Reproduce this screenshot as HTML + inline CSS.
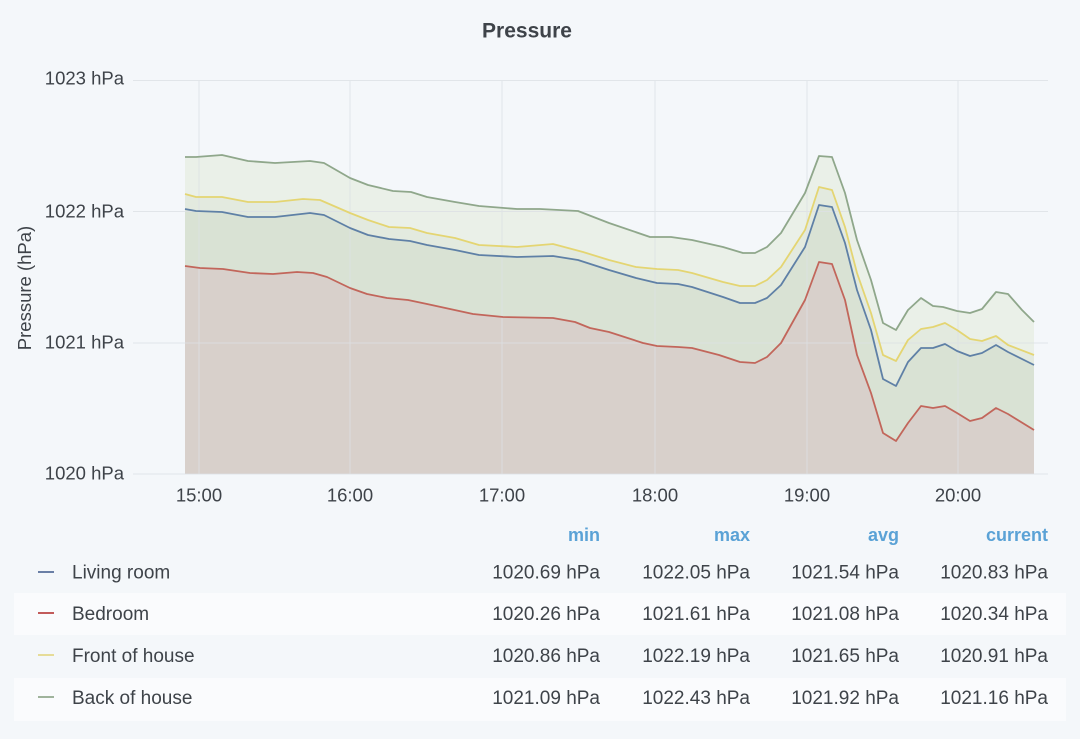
<!DOCTYPE html>
<html><head><meta charset="utf-8"><style>
html,body{margin:0;padding:0;background:#f4f7fa;}
svg{display:block;font-family:"Liberation Sans",sans-serif;}
</style></head><body>
<svg width="1080" height="739" viewBox="0 0 1080 739" xmlns="http://www.w3.org/2000/svg">
<rect x="0" y="0" width="1080" height="739" fill="#f4f7fa"/>
<text x="527" y="37.5" text-anchor="middle" font-size="21" font-weight="bold" fill="#3e4349">Pressure</text>

<!-- areas -->
<polygon fill="#eaf0e8" points="185,474 185,157 196,157 222,155 248,161 275,163 310,161 324,163 350,178 368,185 393,191 411,192 427,197 455,202 479,206 517,209 540,209 578,211 609,223 650,237 671,237 692,240 723,247 743,253 755,253 767,247 781,233 805,193 819,156 832,157 845,193 857,240 871,280 883,323 896,330 908,310 921,298 933,306 943,307 957,311 970,313 982,309 996,292 1008,294 1022,310 1034,322 1034,474"/>
<polygon fill="#e3eadf" points="185,474 185,194 196,197 222,197 248,202 275,202 303,199 320,200 350,213 368,220 389,227 410,228 427,233 455,238 479,245 517,247 553,244 583,252 609,260 636,267 657,269 678,270 692,273 723,282 740,286 755,286 767,280 781,267 805,230 819,187 832,190 845,227 857,273 871,313 883,355 896,361 908,340 921,329 933,327 945,323 957,330 970,339 982,341 996,336 1008,345 1034,355 1034,474"/>
<polygon fill="#d9e2d4" points="185,474 185,209 196,211 222,212 248,217 275,217 310,213 324,215 350,228 368,235 389,239 410,241 427,245 455,250 479,255 517,257 553,256 578,260 609,270 636,278 657,283 678,284 692,287 723,297 740,303 755,303 767,298 781,285 805,247 819,205 832,207 845,243 857,290 871,330 883,379 896,386 908,362 921,348 933,348 945,344 957,351 970,356 982,353 996,345 1008,352 1034,365 1034,474"/>
<polygon fill="#d8d0cb" points="185,474 185,266 200,268 223,269 250,273 273,274 297,272 313,273 327,277 350,288 367,294 387,298 408,300 427,304 450,309 473,314 503,317 553,318 575,322 590,328 609,332 643,343 657,346 678,347 692,348 719,355 740,362 755,363 767,357 781,343 805,300 819,262 832,264 845,300 857,355 871,393 883,433 896,441 908,423 921,406 933,408 945,406 957,413 970,421 982,418 996,408 1008,414 1034,430 1034,474"/>

<!-- grid -->
<g stroke="#dde1e5" stroke-width="1" opacity="0.8">
<line x1="133" y1="80.5" x2="1048" y2="80.5"/>
<line x1="133" y1="211.5" x2="1048" y2="211.5"/>
<line x1="133" y1="343" x2="1048" y2="343"/>
<line x1="133" y1="474" x2="1048" y2="474"/>
<line x1="199" y1="80" x2="199" y2="474"/>
<line x1="350" y1="80" x2="350" y2="474"/>
<line x1="502" y1="80" x2="502" y2="474"/>
<line x1="655" y1="80" x2="655" y2="474"/>
<line x1="807" y1="80" x2="807" y2="474"/>
<line x1="958" y1="80" x2="958" y2="474"/>
</g>

<!-- lines -->
<g fill="none" stroke-width="1.8" stroke-linejoin="round">
<polyline stroke="#8fa78b" points="185,157 196,157 222,155 248,161 275,163 310,161 324,163 350,178 368,185 393,191 411,192 427,197 455,202 479,206 517,209 540,209 578,211 609,223 650,237 671,237 692,240 723,247 743,253 755,253 767,247 781,233 805,193 819,156 832,157 845,193 857,240 871,280 883,323 896,330 908,310 921,298 933,306 943,307 957,311 970,313 982,309 996,292 1008,294 1022,310 1034,322"/>
<polyline stroke="#e4d572" points="185,194 196,197 222,197 248,202 275,202 303,199 320,200 350,213 368,220 389,227 410,228 427,233 455,238 479,245 517,247 553,244 583,252 609,260 636,267 657,269 678,270 692,273 723,282 740,286 755,286 767,280 781,267 805,230 819,187 832,190 845,227 857,273 871,313 883,355 896,361 908,340 921,329 933,327 945,323 957,330 970,339 982,341 996,336 1008,345 1034,355"/>
<polyline stroke="#5f80a6" points="185,209 196,211 222,212 248,217 275,217 310,213 324,215 350,228 368,235 389,239 410,241 427,245 455,250 479,255 517,257 553,256 578,260 609,270 636,278 657,283 678,284 692,287 723,297 740,303 755,303 767,298 781,285 805,247 819,205 832,207 845,243 857,290 871,330 883,379 896,386 908,362 921,348 933,348 945,344 957,351 970,356 982,353 996,345 1008,352 1034,365"/>
<polyline stroke="#c2665b" points="185,266 200,268 223,269 250,273 273,274 297,272 313,273 327,277 350,288 367,294 387,298 408,300 427,304 450,309 473,314 503,317 553,318 575,322 590,328 609,332 643,343 657,346 678,347 692,348 719,355 740,362 755,363 767,357 781,343 805,300 819,262 832,264 845,300 857,355 871,393 883,433 896,441 908,423 921,406 933,408 945,406 957,413 970,421 982,418 996,408 1008,414 1034,430"/>
</g>

<!-- y labels -->
<g font-size="18.5" fill="#3e4349" text-anchor="end">
<text x="124" y="84.5">1023 hPa</text>
<text x="124" y="217.5">1022 hPa</text>
<text x="124" y="348.5">1021 hPa</text>
<text x="124" y="479.5">1020 hPa</text>
</g>
<text transform="translate(31,288) rotate(-90)" text-anchor="middle" font-size="18.5" fill="#3e4349">Pressure (hPa)</text>

<!-- x labels -->
<g font-size="18.5" fill="#3e4349" text-anchor="middle">
<text x="199" y="501.5">15:00</text>
<text x="350" y="501.5">16:00</text>
<text x="502" y="501.5">17:00</text>
<text x="655" y="501.5">18:00</text>
<text x="807" y="501.5">19:00</text>
<text x="958" y="501.5">20:00</text>
</g>

<!-- legend -->
<rect x="14" y="593" width="1052" height="42" fill="#fafbfd"/>
<rect x="14" y="678" width="1052" height="43" fill="#fafbfd"/>
<g font-size="18" font-weight="bold" fill="#5aa2d6" text-anchor="end">
<text x="600" y="541">min</text>
<text x="750" y="541">max</text>
<text x="899" y="541">avg</text>
<text x="1048" y="541">current</text>
</g>
<g stroke-width="2">
<line x1="38" y1="572" x2="54" y2="572" stroke="#6a7fa6"/>
<line x1="38" y1="613" x2="54" y2="613" stroke="#c25b5b"/>
<line x1="38" y1="655" x2="54" y2="655" stroke="#e6dc98"/>
<line x1="38" y1="697" x2="54" y2="697" stroke="#9fb39c"/>
</g>
<g font-size="19" fill="#3e4349">
<text x="72" y="578.5">Living room</text>
<text x="72" y="620">Bedroom</text>
<text x="72" y="662">Front of house</text>
<text x="72" y="704">Back of house</text>
</g>
<g font-size="19" fill="#3e4349" text-anchor="end">
<text x="600" y="578.5">1020.69 hPa</text>
<text x="750" y="578.5">1022.05 hPa</text>
<text x="899" y="578.5">1021.54 hPa</text>
<text x="1048" y="578.5">1020.83 hPa</text>
<text x="600" y="620">1020.26 hPa</text>
<text x="750" y="620">1021.61 hPa</text>
<text x="899" y="620">1021.08 hPa</text>
<text x="1048" y="620">1020.34 hPa</text>
<text x="600" y="662">1020.86 hPa</text>
<text x="750" y="662">1022.19 hPa</text>
<text x="899" y="662">1021.65 hPa</text>
<text x="1048" y="662">1020.91 hPa</text>
<text x="600" y="704">1021.09 hPa</text>
<text x="750" y="704">1022.43 hPa</text>
<text x="899" y="704">1021.92 hPa</text>
<text x="1048" y="704">1021.16 hPa</text>
</g>
</svg>
</body></html>
